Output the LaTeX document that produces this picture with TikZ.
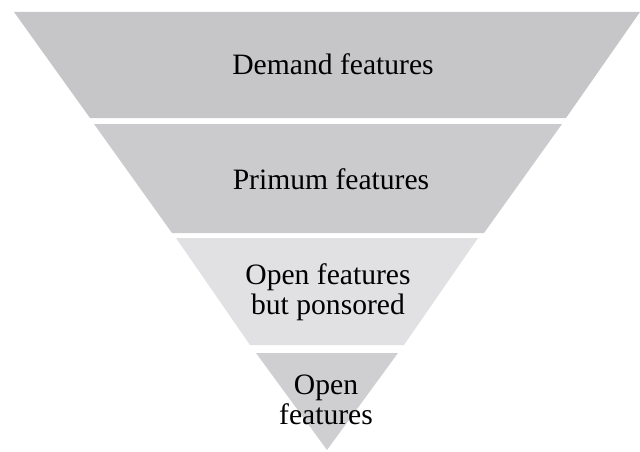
\documentclass[tikz,border=0pt]{standalone}
\usepackage{fontspec}
\setmainfont{Liberation Serif}
\definecolor{bandA}{RGB}{198,198,201}
\definecolor{bandB}{RGB}{203,203,206}
\definecolor{bandC}{RGB}{225,225,228}
\definecolor{bandD}{RGB}{207,207,210}
\begin{document}
\begin{tikzpicture}[x=1pt,y=-1pt,
  lbl/.style={align=center,font=\fontsize{29.6}{30}\selectfont,inner sep=0pt}]
\useasboundingbox (0,0) rectangle (640,452);

\fill [bandA] (14,12) -- (640,12) -- (566,118) -- (90,118) -- cycle;
\node [lbl] (demand) at (333,64) {Demand features};

\fill [bandB] (94,124) -- (562,124) -- (484,233) -- (172,233) -- cycle;
\node [lbl] (primum) at (331,179) {Primum features};

\fill [bandC] (176,238) -- (478,238) -- (404,345) -- (250,345) -- cycle;
\node [lbl] (sponsored) at (328,292) {Open features\\but ponsored};

\fill [bandD] (256,353) -- (398,353) -- (327,450) -- cycle;
\node [lbl] (open) at (326,400) {Open\\features};
\end{tikzpicture}
\end{document}
